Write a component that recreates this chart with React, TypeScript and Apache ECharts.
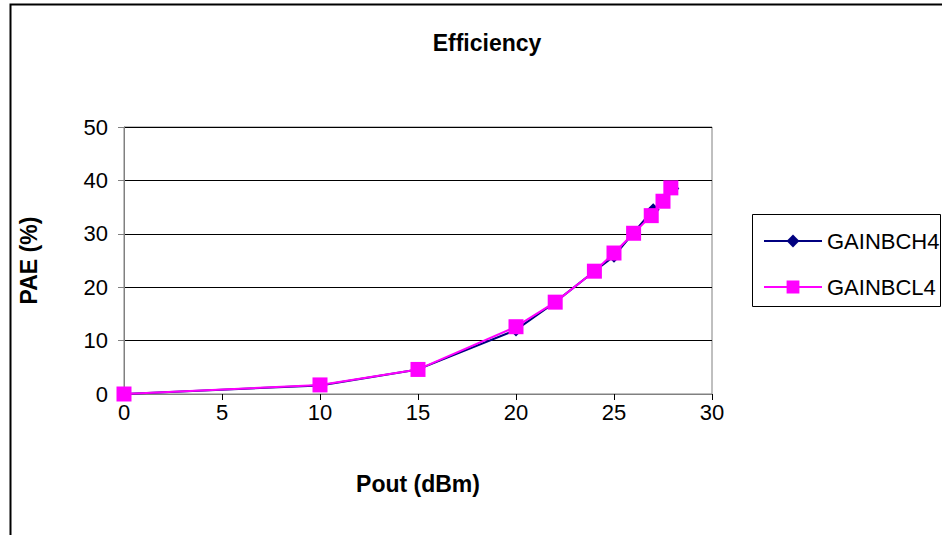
import React, { useEffect, useRef } from "react";
import * as echarts from "echarts";

const title = "Efficiency";
const xAxisName = "Pout (dBm)";
const yAxisName = "PAE (%)";
const seriesNames = ["GAINBCH4", "GAINBCL4"];
const poutH = [0, 10, 15, 20, 22, 24, 25, 26, 27, 27.5, 28];
const paeH = [0, 1.6, 4.6, 12.0, 17.2, 23.0, 25.8, 30.2, 34.5, 36.3, 38.5];
const poutL = [0, 10, 15, 20, 22, 24, 25, 26, 26.9, 27.5, 27.9];
const paeL = [0, 1.7, 4.6, 12.6, 17.2, 23.0, 26.4, 30.1, 33.4, 36.1, 38.6];

const FONT = "Liberation Sans, Arial, sans-serif";

export default function App() {
  const ref = useRef<HTMLDivElement>(null);
  useEffect(() => {
    if (!ref.current) return;
    const chart = echarts.init(ref.current, null, { renderer: "svg" });
    chart.setOption({
      animation: false,
      backgroundColor: "#ffffff",
      textStyle: { fontFamily: FONT },
      title: {
        text: title,
        left: 482,
        top: 26,
        textAlign: "center",
        textStyle: { fontSize: 23, fontWeight: "bold", color: "#000", fontFamily: FONT },
      },
      graphic: [
        {
          type: "rect",
          shape: { x: 10.5, y: 4.5, width: 960, height: 560 },
          style: { fill: "none", stroke: "#000", lineWidth: 2 },
          silent: true,
        },
        {
          type: "rect",
          shape: { x: 752.5, y: 214.5, width: 188, height: 92 },
          style: { fill: "#fff", stroke: "#000", lineWidth: 1 },
          silent: true,
          z: 0,
        },
      ],
      legend: {
        orient: "vertical",
        left: 758,
        top: 225,
        itemWidth: 58,
        itemHeight: 16,
        itemGap: 24,
        textStyle: { fontSize: 22, color: "#000", fontFamily: FONT },
        data: seriesNames,
      },
      grid: {
        left: 124,
        top: 127,
        width: 588,
        height: 267,
        show: true,
        borderColor: "#808080",
        borderWidth: 1,
        backgroundColor: "#fff",
      },
      xAxis: {
        type: "value",
        min: 0,
        max: 30,
        interval: 5,
        name: xAxisName,
        nameLocation: "middle",
        nameGap: 78,
        nameTextStyle: { fontSize: 23, fontWeight: "bold", color: "#000", fontFamily: FONT },
        axisLine: { lineStyle: { color: "#808080", width: 1 } },
        axisTick: { show: true, inside: false, length: 6, lineStyle: { color: "#000" } },
        axisLabel: { fontSize: 22, color: "#000", margin: 7, fontFamily: FONT },
        splitLine: { show: false },
      },
      yAxis: {
        type: "value",
        min: 0,
        max: 50,
        interval: 10,
        name: yAxisName,
        nameLocation: "middle",
        nameGap: 84,
        nameTextStyle: { fontSize: 23, fontWeight: "bold", color: "#000", fontFamily: FONT },
        axisLine: { show: true, lineStyle: { color: "#808080", width: 1 } },
        axisTick: { show: true, inside: false, length: 6, lineStyle: { color: "#808080" } },
        axisLabel: { fontSize: 22, color: "#000", margin: 16, fontFamily: FONT },
        splitLine: { show: true, lineStyle: { color: "#000", width: 1 } },
      },
      series: [
        {
          name: seriesNames[0],
          type: "line",
          data: poutH.map((x, i) => [x, paeH[i]]),
          symbol: "diamond",
          symbolSize: 13,
          lineStyle: { color: "#000080", width: 2 },
          itemStyle: { color: "#000080" },
          z: 2,
        },
        {
          name: seriesNames[1],
          type: "line",
          data: poutL.map((x, i) => [x, paeL[i]]),
          symbol: "rect",
          symbolSize: 15,
          lineStyle: { color: "#ff00ff", width: 2 },
          itemStyle: { color: "#ff00ff" },
          z: 3,
        },
      ],
    });
    return () => chart.dispose();
  }, []);
  return (
    <div
      ref={ref}
      style={{ position: "absolute", left: 0, top: 0, width: 942, height: 535 }}
    />
  );
}
